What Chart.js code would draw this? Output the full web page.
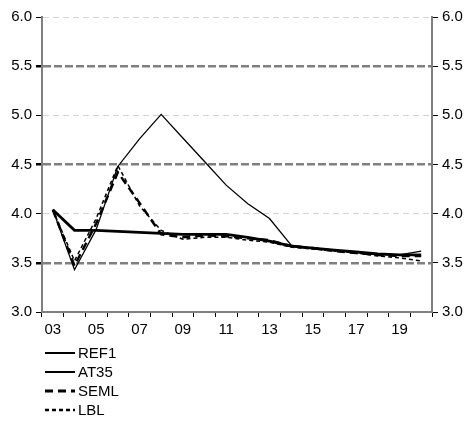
<!DOCTYPE html>
<html>
<head>
<meta charset="utf-8">
<script src="https://cdn.jsdelivr.net/npm/chart.js@4.4.0/dist/chart.umd.min.js"></script>
<style>
html, body { margin: 0; padding: 0; background: #fff; }
#wrap { position: relative; width: 466px; height: 423px; }
#legend { position: absolute; left: 45px; top: 343px; font: 15px "Liberation Sans", Arial, sans-serif; color: #000; }
.item { display: flex; align-items: center; height: 19px; }
.item svg { width: 30px; height: 10px; margin-right: 3px; }
</style>
</head>
<body>
<div id="wrap">
  <canvas id="chart" width="466" height="423"></canvas>
  <div id="legend"></div>
</div>
<script>
// years on the x axis (two digit), only every other one gets a label
var years = ["03", "04", "05", "06", "07", "08", "09", "10", "11", "12",
             "13", "14", "15", "16", "17", "18", "19", "20"];
var yTicks = [3.0, 3.5, 4.0, 4.5, 5.0, 5.5, 6.0];
var majorLines = [3.5, 4.5, 5.5]; // the heavy dashed reference lines

var ref1 = [4.04, 3.83, 3.83, 3.82, 3.81, 3.80, 3.79, 3.79, 3.79, 3.76,
            3.72, 3.67, 3.65, 3.63, 3.61, 3.59, 3.58, 3.58];
var at35 = [4.04, 3.43, 3.84, 4.48, 4.76, 5.01, 4.77, 4.53, 4.29, 4.10,
            3.95, 3.68, 3.65, 3.63, 3.61, 3.59, 3.58, 3.62];
var seml = [4.04, 3.47, 3.90, 4.42, 4.11, 3.79, 3.76, 3.78, 3.77, 3.75,
            3.73, 3.67, 3.65, 3.62, 3.60, 3.58, 3.57, 3.57];
var lbl  = [4.04, 3.52, 3.95, 4.49, 4.08, 3.83, 3.74, 3.76, 3.76, 3.73,
            3.71, 3.66, 3.64, 3.62, 3.60, 3.57, 3.55, 3.52];

var font = { family: '"Liberation Sans", Arial, sans-serif', size: 15 };

function isMajor(v) {
  for (var i = 0; i < majorLines.length; i++) {
    if (Math.abs(majorLines[i] - v) < 1e-6) return true;
  }
  return false;
}

function lineSet(label, data, width, dash) {
  return {
    label: label,
    data: data,
    borderColor: "#000",
    borderWidth: width,
    borderDash: dash,
    pointRadius: 0,
    tension: 0,
    fill: false
  };
}

function makeLegend(chart) {
  var box = document.getElementById("legend");
  chart.data.datasets.forEach(function(ds) {
    var row = document.createElement("div");
    row.className = "item";
    var dash = ds.borderDash.length ? ds.borderDash.join(",") : "none";
    var w = ds.legendWidth;
    row.innerHTML = '<svg viewBox="0 0 30 10"><line x1="0" y1="5" x2="30" y2="5" stroke="#000" stroke-width="' +
      w + '" stroke-dasharray="' + dash + '"/></svg><span>' + ds.label + '</span>';
    box.appendChild(row);
  });
}

var sets = [
  lineSet("REF1", ref1, 2.8, []),
  lineSet("AT35", at35, 1.3, []),
  lineSet("SEML", seml, 2.5, [8, 5]),
  lineSet("LBL", lbl, 1.5, [4, 3])
];
sets[0].legendWidth = 2;
sets[1].legendWidth = 2;
sets[2].legendWidth = 3;
sets[3].legendWidth = 2.5;

var chart = new Chart("chart", {
  type: "line",
  data: { labels: years, datasets: sets },
  options: {
    responsive: false,
    animation: false,
    layout: { padding: { top: 17, left: 0, right: 0, bottom: 0 } },
    plugins: { legend: { display: false }, tooltip: { enabled: false } },
    scales: {
      x: {
        offset: true,
        grid: { offset: true, drawOnChartArea: false, tickLength: 5, tickColor: "#000" },
        border: { color: "#808080", width: 2 },
        ticks: {
          autoSkip: false, maxRotation: 0, color: "#000", font: font, padding: 4,
          callback: function(v, i) { return i % 2 === 0 ? years[i] : ""; }
        },
        afterFit: function(scale) { scale.height = 111; }
      },
      y: {
        position: "left",
        min: 3, max: 6,
        afterBuildTicks: function(scale) { scale.ticks = yTicks.map(function(v) { return { value: v }; }); },
        grid: {
          tickLength: 6,
          tickColor: "#000",
          color: function(ctx) {
            if (!ctx.tick || ctx.tick.value === 3) return "rgba(0,0,0,0)";
            return isMajor(ctx.tick.value) ? "#808080" : "#d4d4d4";
          },
          lineWidth: function(ctx) {
            if (!ctx.tick) return 1;
            return isMajor(ctx.tick.value) ? 2.5 : 1;
          }
        },
        border: {
          color: "#808080", width: 2,
          dash: function(ctx) {
            if (!ctx.tick) return [];
            return isMajor(ctx.tick.value) ? [8, 3] : [6, 4];
          }
        },
        ticks: {
          color: "#000", font: font, padding: 4,
          callback: function(v) { return v.toFixed(1); }
        },
        afterFit: function(scale) { scale.width = 42; }
      },
      y2: {
        position: "right",
        min: 3, max: 6,
        afterBuildTicks: function(scale) { scale.ticks = yTicks.map(function(v) { return { value: v }; }); },
        grid: { drawOnChartArea: false, tickLength: 6, tickColor: "#000" },
        border: { color: "#808080", width: 2 },
        ticks: {
          color: "#000", font: font, padding: 4,
          callback: function(v) { return v.toFixed(1); }
        },
        afterFit: function(scale) { scale.width = 34; }
      }
    }
  }
});

makeLegend(chart);
</script>
</body>
</html>
